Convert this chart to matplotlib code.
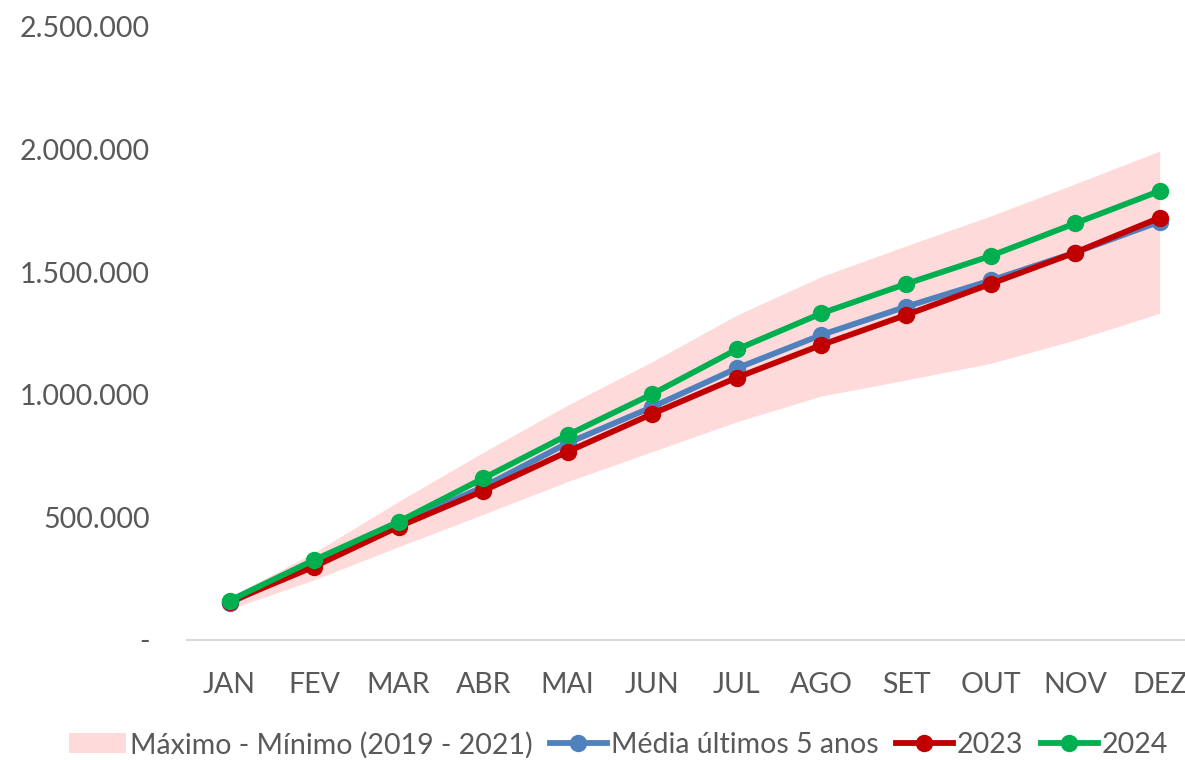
import matplotlib.pyplot as plt
from matplotlib.ticker import FuncFormatter

meses = ["JAN", "FEV", "MAR", "ABR", "MAI", "JUN", "JUL", "AGO", "SET", "OUT", "NOV", "DEZ"]

faixa_max = [175000, 356000, 565000, 765000, 958000, 1135000, 1325000, 1482000, 1607000, 1729000, 1860000, 1994000]
faixa_min = [125000, 245000, 380000, 512000, 646000, 768000, 890000, 995000, 1060000, 1128000, 1223000, 1332000]
media_5anos = [150000, 312000, 472000, 624000, 803000, 950000, 1108000, 1244000, 1359000, 1466000, 1580000, 1706000]
ano_2023 = [155000, 299000, 462000, 608000, 768000, 922000, 1070000, 1203000, 1325000, 1452000, 1580000, 1722000]
ano_2024 = [160000, 326000, 482000, 659000, 836000, 1003000, 1185000, 1332000, 1452000, 1566000, 1699000, 1831000]

cinza = "#595959"
plt.rcParams["font.family"] = ["Lato", "DejaVu Sans"]

fig = plt.figure(figsize=(11.85, 7.6), dpi=100)
ax = fig.add_axes([0.158, 0.158, 0.842, 0.8065])

x = range(len(meses))
ax.fill_between(x, faixa_min, faixa_max, color="#ffdada", linewidth=0,
                label="Máximo - Mínimo (2019 - 2021)")
ax.plot(x, media_5anos, color="#4f81bd", linewidth=4.2, marker="o", markersize=11.5,
        label="Média últimos 5 anos")
ax.plot(x, ano_2023, color="#c00000", linewidth=4.2, marker="o", markersize=11.5, label="2023")
ax.plot(x, ano_2024, color="#00b050", linewidth=4.2, marker="o", markersize=11.5, label="2024")

ax.set_xlim(-0.5, 11.3)
ax.set_ylim(0, 2500000)
ax.set_xticks(list(x))
ax.set_xticklabels(meses)
ax.set_yticks([0, 500000, 1000000, 1500000, 2000000, 2500000])
ax.yaxis.set_major_formatter(FuncFormatter(
    lambda v, p: "-" if v == 0 else f"{int(v):,}".replace(",", ".")))

for s in ["top", "right", "left"]:
    ax.spines[s].set_visible(False)
ax.spines["bottom"].set_color("#d9d9d9")
ax.spines["bottom"].set_linewidth(1.5)
ax.tick_params(axis="both", length=0, labelsize=20.5, colors=cinza)
ax.tick_params(axis="y", pad=27)
ax.tick_params(axis="x", pad=23)

fig.legend(loc="center", bbox_to_anchor=(0.522, 0.02), ncol=4, frameon=False,
           fontsize=20.5, labelcolor=cinza, handlelength=2.0, handletextpad=0.15,
           columnspacing=0.6)

fig.savefig("out.png", dpi=100)
